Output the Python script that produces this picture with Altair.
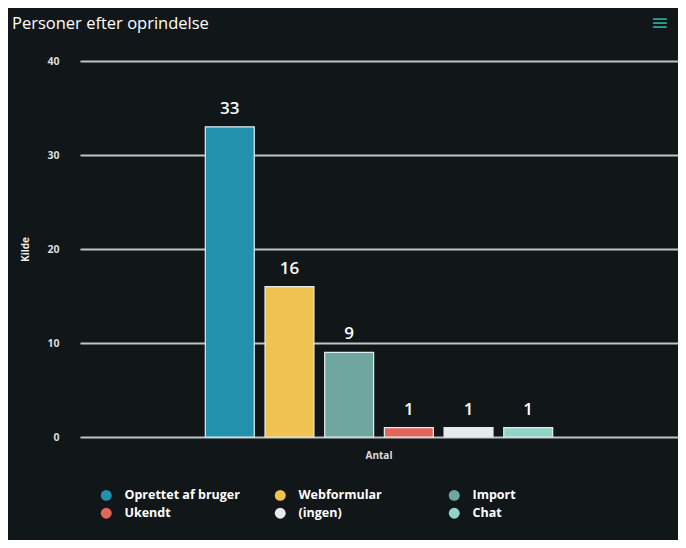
import altair as alt
import pandas as pd

categories = ["Oprettet af bruger", "Webformular", "Import", "Ukendt", "(ingen)", "Chat"]
values = [33, 16, 9, 1, 1, 1]
colors = ["#2191ae", "#f0c24f", "#6fa7a0", "#e2675b", "#e6eaec", "#90d4c9"]
group = ["Antal"] * len(categories)

df = pd.DataFrame({"Kilde": categories, "Antal": values, "group": group})

BG = "#111618"
FONT = "Open Sans"

x = alt.X("group:N", title=None,
          scale=alt.Scale(paddingInner=0, paddingOuter=0.335),
          axis=alt.Axis(labelAngle=0, labelColor="#dddddd", labelFontSize=10,
                        labelFontWeight="bold", labelFont=FONT, domain=False,
                        ticks=False, labelPadding=13, grid=False))
xo = alt.XOffset("Kilde:N", sort=categories,
                 scale=alt.Scale(paddingInner=0.18, paddingOuter=0.09))
y = alt.Y("Antal:Q", title="Kilde",
          scale=alt.Scale(domain=[0, 40]),
          axis=alt.Axis(values=[0, 10, 20, 30, 40], labelColor="#dddddd",
                        labelFontSize=10.5, labelFontWeight="bold", labelFont=FONT,
                        labelPadding=21, domain=False, ticks=False,
                        gridColor="#bfc4c4", gridWidth=2,
                        titleColor="#eeeeee", titleFontSize=10, titleFont=FONT,
                        titleFontWeight="bold", titleX=-55, titleY=188,
                        titleBaseline="middle"))
color = alt.Color("Kilde:N", sort=categories,
                  scale=alt.Scale(domain=categories, range=colors),
                  legend=alt.Legend(title=None, orient="none", legendX=20, legendY=428,
                                    columns=3, direction="horizontal", gridAlign="all",
                                    symbolType="circle", symbolSize=120,
                                    symbolStrokeWidth=0, labelColor="#ffffff",
                                    labelFontSize=12.5, labelFontWeight="bold",
                                    labelFont=FONT, columnPadding=34, rowPadding=5,
                                    labelOffset=12))

base = alt.Chart(df)
bars = base.mark_bar(stroke="#e4ecec", strokeWidth=1.2).encode(
    x=x, xOffset=xo, y=y, color=color)
labels = base.mark_text(baseline="bottom", dy=-9, fontSize=17, fontWeight=600,
                        font=FONT, color="#ffffff").encode(
    x=x, xOffset=xo, y=y, text="Antal:Q")

title_df = pd.DataFrame({"t": ["Personer efter oprindelse"]})
title = alt.Chart(title_df).mark_text(align="left", baseline="middle", fontSize=16.5,
                                      font=FONT, color="#ffffff").encode(
    x=alt.value(-68), y=alt.value(-37), text="t:N")
menu_df = pd.DataFrame({"t": ["≡"]})
menu = alt.Chart(menu_df).mark_text(align="center", baseline="middle", fontSize=22,
                                    font="DejaVu Sans", color="#2aa094").encode(
    x=alt.value(580), y=alt.value(-38), text="t:N")

chart = alt.layer(bars, labels, title, menu).properties(
    width=598, height=376,
    background=BG,
    padding={"left": 72, "top": 53, "right": 0, "bottom": 103},
    autosize=alt.AutoSizeParams(type="none"),
).configure_view(stroke=None)

chart.save("out.html", embed_options={"renderer": "svg", "actions": False})
